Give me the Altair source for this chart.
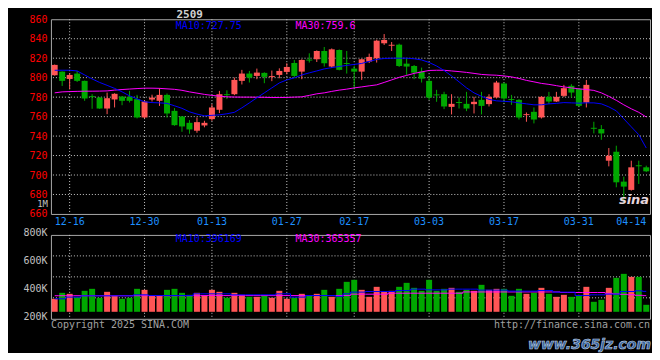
import altair as alt
import pandas as pd

FONT = "DejaVu Sans Mono"
UP = "#ff5555"
DOWN = "#00a800"
GRID = "#c8c8c8"
BORDER = "#a8a8a8"
DATE_BLUE = "#1e90ff"
MA10_C = "#0000ff"
MA30_C = "#ff00ff"

dates = ["12-12", "12-13", "12-16", "12-17", "12-18", "12-19", "12-20", "12-23", "12-24", "12-25",
         "12-26", "12-27", "12-30", "12-31", "01-02", "01-03", "01-06", "01-07", "01-08", "01-09",
         "01-10", "01-13", "01-14", "01-15", "01-16", "01-17", "01-20", "01-21", "01-22", "01-23",
         "01-24", "01-27", "02-05", "02-06", "02-07", "02-10", "02-11", "02-12", "02-13", "02-14",
         "02-17", "02-18", "02-19", "02-20", "02-21", "02-24", "02-25", "02-26", "02-27", "02-28",
         "03-03", "03-04", "03-05", "03-06", "03-07", "03-10", "03-11", "03-12", "03-13", "03-14",
         "03-17", "03-18", "03-19", "03-20", "03-21", "03-24", "03-25", "03-26", "03-27", "03-28",
         "03-31", "04-01", "04-02", "04-03", "04-07", "04-08", "04-09", "04-10", "04-11", "04-14"]

opens = [802.5, 806.2, 798.7, 804.2, 796.7, 781.0, 779.6, 768.3, 777.6, 780.6,
         780.3, 777.9, 759.1, 777.5, 776.2, 782.3, 765.9, 760.1, 753.6, 745.5,
         750.9, 757.4, 767.0, 783.0, 783.0, 796.7, 804.2, 801.8, 804.9, 800.6,
         802.8, 805.9, 815.1, 806.2, 818.6, 818.9, 827.4, 811.4, 828.4, 815.0,
         809.3, 806.2, 816.5, 819.9, 835.3, 832.8, 833.9, 814.4, 812.0, 806.2,
         796.7, 782.8, 783.0, 770.0, 775.0, 773.1, 772.8, 777.2, 772.8, 779.6,
         794.0, 778.0, 777.2, 761.5, 764.9, 759.1, 780.3, 775.5, 781.3, 791.6,
         788.5, 774.5, 748.5, 747.2, 714.7, 723.9, 693.2, 684.7, 710.0, 707.9]
highs = [813.5, 806.5, 804.5, 806.9, 797.0, 783.0, 780.0, 784.7, 784.0, 781.0,
         786.4, 782.3, 776.5, 782.5, 789.2, 783.7, 768.7, 760.5, 756.4, 759.1,
         755.7, 772.8, 786.4, 787.0, 800.1, 808.0, 806.9, 809.3, 805.5, 807.3,
         809.6, 814.8, 818.2, 818.9, 825.0, 828.0, 831.5, 830.0, 829.0, 827.4,
         812.0, 819.5, 824.7, 839.0, 844.8, 836.6, 835.0, 819.9, 813.0, 810.3,
         801.8, 787.5, 785.5, 783.0, 779.6, 785.4, 780.3, 785.4, 783.0, 796.7,
         795.0, 782.3, 778.0, 764.2, 769.4, 781.0, 785.4, 785.4, 792.6, 793.3,
         789.0, 797.7, 754.7, 751.3, 727.7, 730.1, 698.3, 714.7, 714.7, 709.6]
lows = [802.0, 791.5, 788.1, 795.6, 776.2, 768.0, 768.0, 762.5, 769.4, 771.7,
        774.5, 758.1, 758.1, 775.5, 771.0, 759.0, 750.6, 744.4, 742.4, 743.4,
        749.0, 755.7, 763.6, 778.0, 782.0, 793.0, 795.0, 798.4, 794.3, 796.4,
        799.4, 803.5, 800.0, 798.4, 815.5, 816.1, 811.4, 810.0, 807.5, 804.2,
        788.8, 797.7, 815.0, 815.5, 833.6, 827.4, 811.0, 802.8, 798.4, 795.0,
        777.2, 775.2, 767.7, 762.2, 768.3, 765.6, 763.2, 762.2, 770.4, 778.6,
        774.5, 772.1, 757.0, 754.7, 753.0, 758.0, 772.8, 775.0, 780.0, 779.6,
        770.0, 769.4, 742.7, 736.2, 708.9, 687.4, 670.5, 684.0, 690.8, 703.0]
closes = [813.1, 796.7, 802.8, 796.7, 778.6, 780.0, 768.3, 778.9, 783.4, 776.2,
          776.2, 759.1, 775.5, 779.5, 782.3, 763.2, 751.2, 749.9, 746.8, 754.3,
          753.6, 769.4, 783.0, 782.0, 797.7, 804.2, 800.1, 805.2, 800.8, 801.6,
          806.9, 811.0, 801.8, 818.2, 817.6, 827.4, 814.8, 829.1, 808.0, 814.0,
          806.2, 818.9, 821.3, 838.0, 838.7, 833.8, 812.0, 811.4, 805.2, 799.0,
          779.6, 781.8, 770.4, 773.1, 774.0, 768.3, 775.2, 771.0, 780.3, 795.0,
          778.6, 777.0, 759.1, 762.5, 757.0, 780.3, 775.5, 780.3, 789.2, 784.7,
          771.1, 792.6, 747.5, 742.7, 719.8, 692.5, 688.1, 707.9, 709.0, 703.8]
ma10 = [807.6, 807.6, 807.6, 806.9, 802.8, 798.7, 795.1, 792.1, 789.0, 785.4,
        781.3, 778.2, 775.2, 774.4, 774.1, 773.6, 771.1, 768.5, 764.9, 762.6,
        760.8, 761.3, 761.8, 762.9, 764.4, 769.0, 774.1, 779.3, 784.4, 789.5,
        794.6, 797.7, 799.8, 802.8, 804.9, 806.9, 809.0, 810.3, 811.5, 812.6,
        813.6, 814.6, 816.7, 818.7, 819.7, 820.0, 820.0, 820.0, 819.4, 818.2,
        815.6, 812.0, 807.4, 801.8, 795.7, 789.5, 784.4, 780.8, 777.7, 776.2,
        775.7, 775.2, 774.1, 773.1, 772.1, 772.1, 773.1, 773.6, 774.4, 774.1,
        773.8, 774.1, 774.1, 773.1, 770.0, 765.9, 757.7, 749.5, 741.4, 727.75]
ma30 = [784.4, 785.4, 785.7, 785.9, 786.1, 786.1, 786.2, 786.4, 787.2, 787.8,
        788.3, 788.8, 789.2, 789.2, 789.0, 788.5, 788.0, 787.0, 785.4, 784.1,
        782.8, 781.8, 781.0, 780.3, 780.1, 780.0, 780.0, 779.9, 779.8, 779.6,
        779.6, 779.7, 780.0, 780.3, 781.8, 783.4, 784.4, 785.9, 787.2, 788.2,
        789.5, 790.5, 791.6, 792.6, 795.1, 797.7, 800.3, 802.3, 804.4, 805.9,
        807.4, 807.6, 807.6, 806.9, 806.2, 805.4, 804.4, 803.3, 802.8, 802.5,
        801.8, 800.8, 799.2, 797.2, 795.7, 794.1, 793.1, 791.8, 790.5, 789.5,
        788.5, 787.8, 786.9, 784.4, 780.8, 776.7, 772.1, 768.0, 764.4, 759.6]
volumes = [342900, 385700, 378600, 354800, 400000, 414300, 350000, 392900, 364300, 342900,
           350000, 414300, 407100, 364300, 364300, 407100, 414300, 385700, 371400, 385700,
           364300, 407100, 392900, 350000, 385700, 371400, 357100, 357100, 364300, 350000,
           400000, 342900, 350000, 378600, 364300, 378600, 407100, 357100, 414300, 464300,
           478600, 407100, 357100, 428600, 392900, 400000, 428600, 457100, 421400, 400000,
           478600, 400000, 414300, 421400, 392900, 407100, 400000, 442900, 407100, 414300,
           414300, 364300, 414300, 378600, 385700, 421400, 378600, 357100, 371400, 357100,
           364300, 428600, 321400, 335700, 421400, 492900, 521400, 500000, 500000, 300000]
vol_ma10 = [342900, 342900, 355000, 355000, 364300, 364300, 364300, 364300, 364300, 364300,
            364300, 371400, 371400, 366400, 366400, 366400, 366400, 366400, 366400, 378600,
            378600, 378600, 378600, 378600, 371400, 371400, 371400, 371400, 371400, 371400,
            378600, 378600, 355000, 355000, 366400, 366400, 366400, 366400, 360700, 378600,
            390700, 390700, 395000, 395000, 395000, 395000, 402000, 402000, 412000, 412000,
            407000, 407000, 407000, 412000, 412000, 412000, 412000, 405000, 405000, 405000,
            405000, 397900, 397900, 397900, 397900, 402000, 402000, 390700, 390700, 390700,
            366400, 366400, 371400, 371400, 376400, 376400, 395000, 395000, 400000, 396169]
vol_ma30 = [365000, 365000, 365000, 365000, 365000, 365000, 365000, 365000, 365000, 365000,
            365000, 365000, 365000, 365000, 365000, 365000, 365000, 365000, 365000, 365000,
            366000, 366000, 366000, 366000, 366000, 366000, 366000, 366000, 366000, 366000,
            366000, 366000, 366000, 366000, 366000, 366000, 366000, 366000, 366000, 366000,
            376000, 376000, 376000, 376000, 376000, 383000, 383000, 383000, 383000, 383000,
            383000, 383000, 383000, 383000, 383000, 392000, 392000, 392000, 392000, 392000,
            392000, 392000, 392000, 392000, 392000, 392000, 392000, 392000, 388000, 388000,
            388000, 388000, 388000, 388000, 382000, 378000, 375000, 372000, 368000, 365357]

label_dates = ["12-16", "12-30", "01-13", "01-27", "02-17", "03-03", "03-17", "03-31", "04-14"]
grid_dates = label_dates[:-1]
price_ticks = [660, 680, 700, 720, 740, 760, 780, 800, 820, 840, 860]
price_grid = price_ticks[1:-1]
vol_ticks = [200000, 400000, 600000, 800000]
vol_grid = [350000, 500000, 650000]
VOL_DOMAIN = [200000, 800000]
VOL_BASE = 250000

df = pd.DataFrame({
    "idx": list(range(len(dates))), "date": dates, "open": opens, "high": highs,
    "low": lows, "close": closes, "ma10": ma10, "ma30": ma30, "volume": volumes,
    "vma10": vol_ma10, "vma30": vol_ma30,
})
df["dir"] = ["up" if c >= o else "down" for o, c in zip(opens, closes)]

xscale = alt.Scale(type="band", domain=dates, paddingInner=0, paddingOuter=0)
x_axis = alt.Axis(values=label_dates, labelAngle=0, labelColor=DATE_BLUE, labelFont=FONT,
                  labelFontSize=10, labelPadding=3, labelFlush=8, ticks=False, tickSize=0,
                  domain=False, grid=False, title=None)
Xp = alt.X("date:N", scale=xscale, axis=x_axis)
Xv = alt.X("date:N", scale=xscale, axis=None)

pscale = alt.Scale(domain=[660, 860], nice=False, zero=False)
p_axis = alt.Axis(values=price_ticks, labelColor="#ff0000", labelFont=FONT, labelFontSize=10,
                  labelPadding=4, ticks=False, tickSize=0, domain=False, grid=False, title=None)


def Yp(f):
    return alt.Y(f, type="quantitative", scale=pscale, axis=p_axis)


vscale = alt.Scale(domain=VOL_DOMAIN, nice=False, zero=False)
v_axis = alt.Axis(values=vol_ticks, labelExpr="format(datum.value/1000, 'd') + 'K'",
                  labelColor="#c0c0c0", labelFont=FONT, labelFontSize=10, labelPadding=4,
                  labelOffset=-2, ticks=False, tickSize=0, domain=False, grid=False, title=None)


def Yv(f):
    return alt.Y(f, type="quantitative", scale=vscale, axis=v_axis)


color = alt.Color("dir:N", scale=alt.Scale(domain=["up", "down"], range=[UP, DOWN]), legend=None)
one = pd.DataFrame({"k": [0]})


def note(text, x, y, col, align="left", size=10, baseline="middle", **kw):
    return alt.Chart(one).mark_text(text=text, align=align, baseline=baseline, font=kw.pop("font", FONT),
                                    fontSize=size, color=col, **kw).encode(
        x=alt.value(x), y=alt.value(y))


base = alt.Chart(df)
dot = dict(color=GRID, strokeDash=[1, 2], strokeWidth=1)

p_layers = [
    alt.Chart(pd.DataFrame({"date": grid_dates})).mark_rule(**dot).encode(x=Xp),
    alt.Chart(pd.DataFrame({"level": price_grid})).mark_rule(**dot).encode(y=Yp("level")),
    base.mark_rule(strokeWidth=1).encode(x=Xp, y=Yp("low"), y2="high", color=color),
    base.mark_bar(size=6).encode(x=Xp, y=Yp("open"), y2="close", color=color),
    base.mark_line(color=MA30_C, strokeWidth=1).encode(x=Xp, y=Yp("ma30"), order="idx:Q"),
    base.mark_line(color=MA10_C, strokeWidth=1).encode(x=Xp, y=Yp("ma10"), order="idx:Q"),
    note(f"MA10:{ma10[-1]:.2f}", 125, 7, MA10_C),
    note(f"MA30:{ma30[-1]:.1f}", 245, 7, MA30_C),
    note("2509", 139, -10, "#d0d0d0", align="center", size=11, baseline="top", fontWeight="bold"),
    note("1M", -3, 185.5, "#c0c0c0", align="right", size=9),
    note("sina", 584, 181, "#e6d6de", align="center", size=13, fontWeight="bold",
         fontStyle="italic", font="DejaVu Sans"),
]
price = alt.layer(*p_layers).properties(width=600, height=195)

v_layers = [
    alt.Chart(pd.DataFrame({"date": grid_dates})).mark_rule(**dot).encode(x=Xv),
    alt.Chart(pd.DataFrame({"level": vol_grid})).mark_rule(**dot).encode(y=Yv("level")),
    base.mark_bar(size=6).encode(x=Xv, y=Yv("volume"), y2=alt.datum(VOL_BASE), color=color),
    base.mark_line(color=MA30_C, strokeWidth=1, interpolate="step").encode(
        x=Xv, y=Yv("vma30"), order="idx:Q"),
    base.mark_line(color=MA10_C, strokeWidth=1, interpolate="step").encode(
        x=Xv, y=Yv("vma10"), order="idx:Q"),
    note(f"MA10:{vol_ma10[-1]}", 125, 4.5, MA10_C),
    note(f"MA30:{vol_ma30[-1]}", 245, 4.5, MA30_C),
    note("Copyright 2025 SINA.COM", 0, 90, "#a0a0a0"),
    note("http://finance.sina.com.cn", 600, 90, "#a0a0a0", align="right"),
    note("www.365jz.com", 601, 110, "#33609e", align="right", size=14, fontWeight="bold",
         fontStyle="italic", font="DejaVu Sans", stroke="#c0d0e0", strokeWidth=0.6),
]
volume = alt.layer(*v_layers).properties(width=600, height=84)

chart = alt.vconcat(
    price, volume, spacing=21, bounds="flush", background="#000000",
    padding={"left": 14, "top": 0, "right": 0, "bottom": 0},
).configure_view(stroke=BORDER, strokeWidth=1, fill="#000000")

chart.save("out.html", embed_options={"renderer": "svg", "actions": False})
